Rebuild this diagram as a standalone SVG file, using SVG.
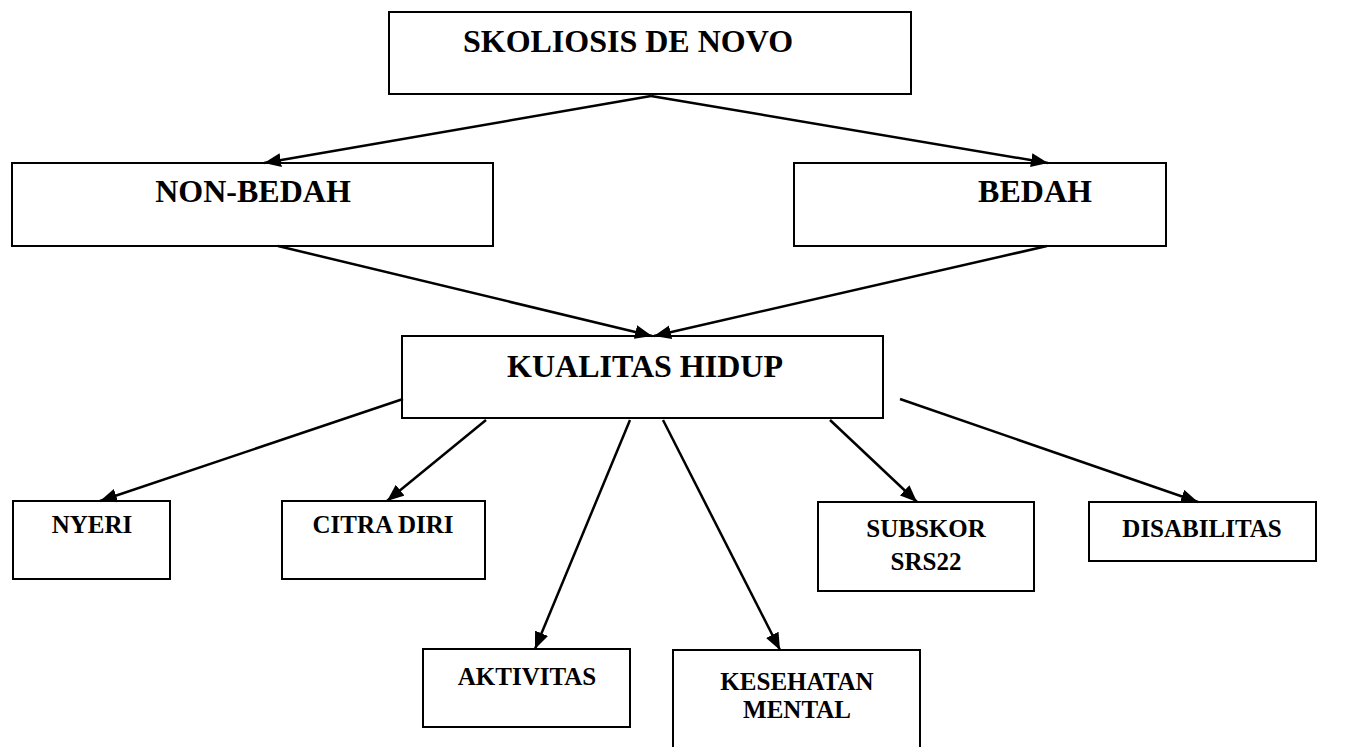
<svg xmlns="http://www.w3.org/2000/svg" width="1354" height="747" viewBox="0 0 1354 747">
<style>
.box{fill:#fff;stroke:#000;stroke-width:2}
.big{font-family:"Liberation Serif","Times New Roman",serif;font-weight:bold;font-size:32px;fill:#000}
.small{font-family:"Liberation Serif","Times New Roman",serif;font-weight:bold;font-size:25px;fill:#000}
.conn{stroke:#000;stroke-width:2.5;fill:none;marker-end:url(#arr)}
</style>
<defs>
<marker id="arr" markerUnits="userSpaceOnUse" markerWidth="18" markerHeight="14" refX="17" refY="7" orient="auto">
<path d="M0,0 L17,7 L0,14 z" fill="#000"/>
</marker>
</defs>
<rect width="1354" height="747" fill="#fff"/>
<g id="n-skoliosis">
<rect class="box" x="389" y="12" width="522" height="82"/>
<text class="big" x="628" y="52" text-anchor="middle">SKOLIOSIS DE NOVO</text>
</g>
<g id="n-nonbedah">
<rect class="box" x="12" y="163" width="481" height="83"/>
<text class="big" x="253" y="202" text-anchor="middle">NON-BEDAH</text>
</g>
<g id="n-bedah">
<rect class="box" x="794" y="163" width="372" height="83"/>
<text class="big" x="1035" y="202" text-anchor="middle">BEDAH</text>
</g>
<g id="n-kualitas">
<rect class="box" x="402" y="336" width="481" height="82"/>
<text class="big" x="645" y="377" text-anchor="middle">KUALITAS HIDUP</text>
</g>
<g id="n-nyeri">
<rect class="box" x="13" y="501" width="157" height="78"/>
<text class="small" x="92" y="533" text-anchor="middle">NYERI</text>
</g>
<g id="n-citra">
<rect class="box" x="282" y="501" width="203" height="78"/>
<text class="small" x="383" y="533" text-anchor="middle">CITRA DIRI</text>
</g>
<g id="n-aktivitas">
<rect class="box" x="423" y="649" width="207" height="78"/>
<text class="small" x="527" y="685" text-anchor="middle">AKTIVITAS</text>
</g>
<g id="n-kesehatan">
<rect class="box" x="673" y="650" width="247" height="110"/>
<text class="small" x="797" y="690" text-anchor="middle">KESEHATAN</text>
<text class="small" x="797" y="718" text-anchor="middle">MENTAL</text>
</g>
<g id="n-subskor">
<rect class="box" x="818" y="502" width="216" height="89"/>
<text class="small" x="926" y="537" text-anchor="middle">SUBSKOR</text>
<text class="small" x="926" y="570" text-anchor="middle">SRS22</text>
</g>
<g id="n-disabilitas">
<rect class="box" x="1089" y="502" width="227" height="59"/>
<text class="small" x="1202" y="537" text-anchor="middle">DISABILITAS</text>
</g>
<g id="connectors">
<line class="conn" x1="651" y1="96" x2="264" y2="163"/>
<line class="conn" x1="651" y1="96" x2="1048" y2="163"/>
<line class="conn" x1="278" y1="246" x2="652" y2="336"/>
<line class="conn" x1="1047" y1="246" x2="654" y2="336"/>
<line class="conn" x1="403" y1="399" x2="100" y2="501"/>
<line class="conn" x1="486" y1="420" x2="387" y2="501"/>
<line class="conn" x1="630" y1="420" x2="535" y2="649"/>
<line class="conn" x1="663" y1="420" x2="780" y2="650"/>
<line class="conn" x1="830" y1="420" x2="917" y2="502"/>
<line class="conn" x1="900" y1="399" x2="1198" y2="502"/>
</g>
</svg>
